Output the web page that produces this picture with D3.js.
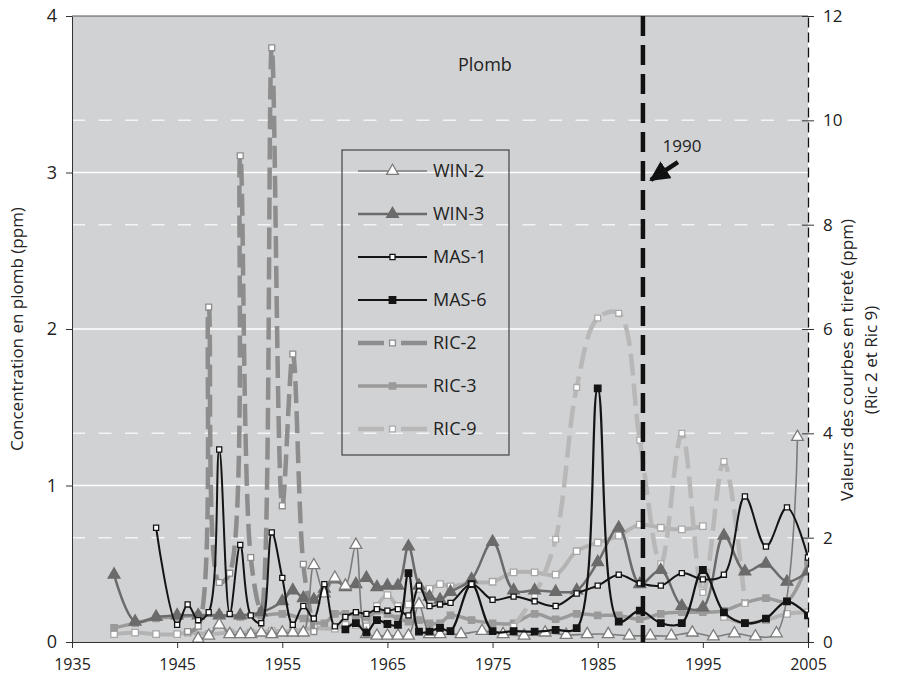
<!DOCTYPE html>
<html>
<head>
<meta charset="UTF-8">
<title>Plomb</title>
<style>
  body { margin: 0; background: #fff; }
  svg { font-family: "Open Sans", sans-serif; }
</style>
</head>
<body>
<script src="https://d3js.org/d3.v7.min.js"></script>
<script>
// valeurs (ppm), axe gauche sauf RIC-2 et RIC-9 (axe droit)
const win2Years = [1947,1948,1949,1950,1951,1952,1953,1954,1955,1956,1957,1958,1959,1960,1961,1962,1963,1964,1965,1966,1967,1968,1969,1970,1972,1974,1976,1978,1980,1982,1984,1986,1988,1990,1992,1994,1996,1998,2000,2002,2004];
const win2Values = [0.02,0.04,0.11,0.05,0.05,0.05,0.06,0.05,0.06,0.06,0.06,0.49,0.31,0.41,0.36,0.62,0.05,0.04,0.04,0.04,0.04,0.24,0.05,0.05,0.05,0.07,0.05,0.04,0.06,0.045,0.05,0.05,0.04,0.04,0.04,0.06,0.035,0.055,0.035,0.055,1.31];

const win3Years = [1939,1941,1943,1945,1947,1949,1951,1953,1955,1956,1957,1958,1959,1960,1961,1962,1963,1964,1965,1966,1967,1968,1969,1970,1971,1973,1975,1977,1979,1981,1983,1985,1987,1989,1991,1993,1995,1997,1999,2001,2003,2005];
const win3Values = [0.43,0.13,0.16,0.17,0.17,0.17,0.17,0.19,0.26,0.33,0.28,0.27,0.34,0.40,0.35,0.37,0.41,0.35,0.36,0.36,0.61,0.36,0.29,0.27,0.32,0.40,0.64,0.33,0.33,0.32,0.33,0.51,0.73,0.37,0.46,0.23,0.22,0.68,0.45,0.50,0.385,0.45];

const mas1Years = [1943,1945,1946,1947,1948,1949,1950,1951,1952,1953,1954,1955,1956,1957,1958,1959,1960,1961,1962,1963,1964,1965,1966,1967,1968,1969,1970,1971,1973,1975,1977,1979,1981,1983,1985,1987,1989,1991,1993,1995,1997,1999,2001,2003,2005];
const mas1Values = [0.73,0.11,0.24,0.14,0.19,1.23,0.18,0.62,0.17,0.12,0.70,0.41,0.11,0.23,0.15,0.37,0.10,0.16,0.19,0.18,0.21,0.20,0.21,0.17,0.36,0.23,0.24,0.25,0.37,0.27,0.29,0.26,0.23,0.31,0.36,0.43,0.375,0.36,0.44,0.40,0.43,0.93,0.61,0.86,0.54];

const mas6Years = [1961,1962,1963,1964,1965,1966,1967,1968,1969,1970,1971,1973,1975,1977,1979,1981,1983,1985,1987,1989,1991,1993,1995,1997,1999,2001,2003,2005];
const mas6Values = [0.08,0.12,0.06,0.14,0.115,0.11,0.44,0.066,0.066,0.09,0.07,0.37,0.07,0.07,0.066,0.077,0.088,1.62,0.13,0.20,0.12,0.12,0.46,0.19,0.12,0.15,0.26,0.17];

const ric2Years = [1946,1947,1948,1949,1950,1951,1952,1953,1954,1955,1956,1957,1958];
const ric2Values = [0.2,0.3,6.42,1.14,1.32,9.32,1.62,0.6,11.39,2.61,5.52,1.49,0.2];

const ric3Years = [1939,1941,1943,1945,1947,1949,1951,1953,1955,1957,1959,1960,1961,1962,1963,1964,1965,1966,1967,1968,1969,1970,1971,1973,1975,1977,1979,1981,1983,1985,1987,1989,1991,1993,1995,1997,1999,2001,2003,2005];
const ric3Values = [0.09,0.12,0.15,0.16,0.17,0.17,0.16,0.17,0.18,0.15,0.12,0.18,0.18,0.17,0.16,0.20,0.18,0.15,0.13,0.14,0.12,0.12,0.17,0.14,0.12,0.12,0.18,0.145,0.18,0.17,0.17,0.145,0.18,0.19,0.19,0.20,0.25,0.28,0.26,0.51];

const ric9Years = [1977,1979,1981,1983,1985,1987,1989,1991,1993,1995,1997,1999];
const ric9Values = [0.3,0.9,1.97,4.88,6.21,6.3,3.87,1.5,4.0,0.95,3.46,0.74];

// courbe grise claire en trait plein (sans entrée de légende)
const extraYears = [1939,1941,1943,1945,1946,1948,1950,1952,1954,1956,1958,1960,1961,1962,1963,1964,1965,1966,1967,1968,1969,1970,1971,1973,1975,1977,1979,1981,1983,1985,1987,1989,1991,1993,1995,1996,1997,1999,2001,2003,2005];
const extraValues = [0.05,0.06,0.05,0.05,0.06,0.05,0.06,0.06,0.07,0.07,0.09,0.085,0.11,0.11,0.10,0.23,0.30,0.23,0.24,0.34,0.34,0.37,0.355,0.38,0.385,0.445,0.445,0.43,0.58,0.635,0.68,0.75,0.73,0.72,0.74,null,0.16,0.12,0.14,0.18,0.19];

const xTicks = [1935,1945,1955,1965,1975,1985,1995,2005];
const yTicks = [0,1,2,3,4];
const y2Ticks = [0,2,4,6,8,10,12];
const markYear = 1989.3;   // trait vertical "1990"

let width = 905, height = 683;
let pLeft = 72, pRight = 808, pTop = 16, pBottom = 642;

let svg = d3.select('body').append('svg')
  .attr('width', width)
  .attr('height', height);

let x = d3.scaleLinear().domain([1935, 2005]).range([pLeft, pRight]);
let y = d3.scaleLinear().domain([0, 4]).range([pBottom, pTop]);
let y2 = d3.scaleLinear().domain([0, 12]).range([pBottom, pTop]);

// fond
svg.append('rect')
  .attr('x', pLeft).attr('y', pTop)
  .attr('width', pRight - pLeft).attr('height', pBottom - pTop)
  .attr('fill', '#d1d2d4');

// grille : traits pleins (axe gauche), tiretés (axe droit)
svg.selectAll('.grid')
  .data(yTicks.filter(d => d > 0 && d < 4))
  .enter().append('line')
  .attr('x1', pLeft).attr('x2', pRight)
  .attr('y1', d => y(d)).attr('y2', d => y(d))
  .attr('stroke', '#fff').attr('stroke-width', 1.5);

svg.selectAll('.grid2')
  .data(y2Ticks.filter(d => d % 6 !== 0))
  .enter().append('line')
  .attr('x1', pLeft).attr('x2', pRight)
  .attr('y1', d => y2(d)).attr('y2', d => y2(d))
  .attr('stroke', '#f4f4f4').attr('stroke-width', 1.5)
  .attr('stroke-dasharray', '13,13.5');

// bord supérieur
svg.append('line')
  .attr('x1', pLeft).attr('x2', pRight)
  .attr('y1', pTop).attr('y2', pTop)
  .attr('stroke', '#555').attr('stroke-width', 1);

// axes
let gx = svg.append('g')
  .attr('transform', 'translate(0,' + pBottom + ')')
  .call(d3.axisBottom(x).tickValues(xTicks).tickFormat(d3.format('d')).tickSize(6).tickSizeOuter(0).tickPadding(11));

let gy = svg.append('g')
  .attr('transform', 'translate(' + pLeft + ',0)')
  .call(d3.axisLeft(y).tickValues(yTicks).tickFormat(d3.format('d')).tickSize(6).tickSizeOuter(0).tickPadding(9));

let gy2 = svg.append('g')
  .attr('transform', 'translate(' + pRight + ',0)')
  .call(d3.axisRight(y2).tickValues(y2Ticks).tickFormat(d3.format('d')).tickSize(6).tickSizeOuter(0).tickPadding(9));

gy2.selectAll('.tick line').attr('x1', -6);
gy2.select('.domain').attr('stroke-dasharray', '10,5').attr('stroke', '#111').attr('stroke-width', 1.3);

[gx, gy, gy2].forEach(g => {
  g.selectAll('text').attr('font-size', '16px').attr('fill', '#222').attr('font-family', '"Open Sans", sans-serif');
  g.selectAll('.tick line').attr('stroke', '#333');
});
gx.select('.domain').attr('stroke', '#333');
gy.select('.domain').attr('stroke', '#333');
gy.selectAll('text').attr('font-size', '18px');
gy2.selectAll('text').attr('font-size', '17px');

// titres
svg.append('text')
  .attr('transform', 'translate(23,' + (pTop + pBottom) / 2 + ') rotate(-90)')
  .attr('text-anchor', 'middle').attr('font-size', '17px').attr('fill', '#222')
  .text('Concentration en plomb (ppm)');

svg.append('text')
  .attr('transform', 'translate(853,360) rotate(-90)')
  .attr('text-anchor', 'middle').attr('font-size', '17px').attr('fill', '#222')
  .text('Valeurs des courbes en tireté (ppm)');

svg.append('text')
  .attr('transform', 'translate(877,360) rotate(-90)')
  .attr('text-anchor', 'middle').attr('font-size', '17px').attr('fill', '#222')
  .text('(Ric 2 et Ric 9)');

svg.append('text')
  .attr('x', 458).attr('y', 71)
  .attr('font-size', '18px').attr('fill', '#222')
  .text('Plomb');

// courbes
svg.append('clipPath').attr('id', 'plot')
  .append('rect').attr('x', pLeft).attr('y', pTop).attr('width', pRight - pLeft).attr('height', pBottom - pTop);

let series = [
  {name: 'extra', years: extraYears, values: extraValues, scale: y, color: '#b3b3b3', width: 4, dash: null, symbol: d3.symbolSquare, size: 42, fill: '#fff', mstroke: '#a6a6a6'},
  {name: 'RIC-3', years: ric3Years, values: ric3Values, scale: y, color: '#9a9a9a', width: 3.5, dash: null, symbol: d3.symbolSquare, size: 40, fill: '#9a9a9a', mstroke: '#9a9a9a'},
  {name: 'RIC-2', years: ric2Years, values: ric2Values, scale: y2, color: '#8d8d8d', width: 4.5, dash: '22,8', symbol: d3.symbolSquare, size: 34, fill: '#fff', mstroke: '#8d8d8d'},
  {name: 'RIC-9', years: ric9Years, values: ric9Values, scale: y2, color: '#b8b8b8', width: 4.5, dash: '22,8', symbol: d3.symbolSquare, size: 34, fill: '#fff', mstroke: '#aaaaaa'},
  {name: 'WIN-3', years: win3Years, values: win3Values, scale: y, color: '#6b6b6b', width: 2.5, dash: null, symbol: d3.symbolTriangle, size: 60, fill: '#6b6b6b', mstroke: '#6b6b6b'},
  {name: 'WIN-2', years: win2Years, values: win2Values, scale: y, color: '#7c7c7c', width: 1.6, dash: null, symbol: d3.symbolTriangle, size: 60, fill: '#fff', mstroke: '#7c7c7c'},
  {name: 'MAS-6', years: mas6Years, values: mas6Values, scale: y, color: '#141414', width: 2.2, dash: null, symbol: d3.symbolSquare, size: 42, fill: '#141414', mstroke: '#141414'},
  {name: 'MAS-1', years: mas1Years, values: mas1Values, scale: y, color: '#141414', width: 2, dash: null, symbol: d3.symbolSquare, size: 26, fill: '#fff', mstroke: '#141414'}
];

let plot = svg.append('g').attr('clip-path', 'url(#plot)');

series.forEach(s => {
  let pts = s.years.map((yr, i) => ({yr: yr, v: s.values[i]}));
  // lissage des courbes
  let line = d3.line()
    .defined(d => d.v != null)
    .x(d => x(d.yr))
    .y(d => s.scale(d.v))
    .curve(d3.curveCatmullRom.alpha(0.5));
  plot.append('path')
    .datum(pts)
    .attr('d', line)
    .attr('fill', 'none')
    .attr('stroke', s.color)
    .attr('stroke-width', s.width)
    .attr('stroke-dasharray', s.dash)
    .attr('stroke-linejoin', 'round');
  plot.selectAll(null)
    .data(pts.filter(d => d.v != null))
    .enter().append('path')
    .attr('transform', d => 'translate(' + x(d.yr) + ',' + s.scale(d.v) + ')')
    .attr('d', d3.symbol().type(s.symbol).size(s.size))
    .attr('fill', s.fill)
    .attr('stroke', s.mstroke)
    .attr('stroke-width', 1.3);
});

// trait vertical 1990 et flèche
svg.append('line')
  .attr('x1', x(markYear)).attr('x2', x(markYear))
  .attr('y1', pTop).attr('y2', pBottom)
  .attr('stroke', '#111').attr('stroke-width', 4.5)
  .attr('stroke-dasharray', '20,9');

svg.append('defs').append('marker')
  .attr('id', 'head').attr('viewBox', '0 0 10 10')
  .attr('refX', 9).attr('refY', 5)
  .attr('markerWidth', 4.5).attr('markerHeight', 4.5)
  .attr('orient', 'auto')
  .append('path').attr('d', 'M0,0 L10,5 L0,10 z').attr('fill', '#111');

svg.append('line')
  .attr('x1', x(markYear) + 35).attr('y1', y2(9.2))
  .attr('x2', x(markYear) + 8).attr('y2', y2(8.86))
  .attr('stroke', '#111').attr('stroke-width', 4.5)
  .attr('marker-end', 'url(#head)');

svg.append('text')
  .attr('x', x(markYear) + 39).attr('y', y2(9.4))
  .attr('text-anchor', 'middle').attr('font-size', '17px').attr('fill', '#222')
  .text('1990');

// légende
let legendOrder = ['WIN-2', 'WIN-3', 'MAS-1', 'MAS-6', 'RIC-2', 'RIC-3', 'RIC-9'];
svg.append('rect')
  .attr('x', 342).attr('y', 150).attr('width', 167).attr('height', 305)
  .attr('fill', 'none').attr('stroke', '#444').attr('stroke-width', 1.2);

let leg = svg.selectAll('.leg')
  .data(legendOrder.map(n => series.find(s => s.name === n)))
  .enter().append('g')
  .attr('transform', (d, i) => 'translate(358,' + (171 + i * 43) + ')');

leg.append('line')
  .attr('x1', 0).attr('x2', 69)
  .attr('stroke', d => d.color)
  .attr('stroke-width', d => d.width)
  .attr('stroke-dasharray', d => d.dash ? '26,17' : null);

leg.append('path')
  .attr('transform', 'translate(34.5,0)')
  .attr('d', d => d3.symbol().type(d.symbol).size(d.size)())
  .attr('fill', d => d.fill)
  .attr('stroke', d => d.mstroke)
  .attr('stroke-width', 1.3);

leg.append('text')
  .attr('x', 75).attr('y', 6)
  .attr('font-size', '18px').attr('fill', '#222')
  .text(d => d.name);
</script>
</body>
</html>
